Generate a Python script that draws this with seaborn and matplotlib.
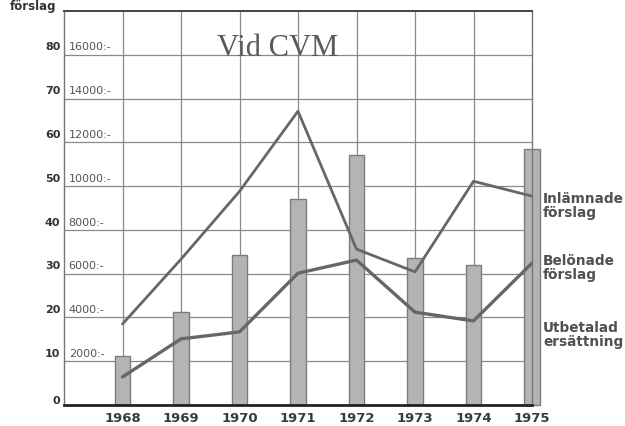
import matplotlib
matplotlib.use("Agg")
import matplotlib.pyplot as plt
import seaborn as sns

# data
years = [1968, 1969, 1970, 1971, 1972, 1973, 1974, 1975]
inlamnade = [18.5, 33.3, 48.8, 67.1, 35.6, 30.4, 51.1, 47.7]   # submitted proposals
belonade = [6.4, 15.1, 16.7, 30.1, 33.1, 21.2, 19.2, 32.4]     # rewarded proposals
ersattning_kr = [2240, 4240, 6840, 9400, 11420, 6720, 6400, 11680]  # paid compensation (kr)

left_ticks = [0, 10, 20, 30, 40, 50, 60, 70, 80]
kr_per_unit = 200  # 10 förslag <-> 2000:-

series_labels = [("Inlämnade\nförslag", 45.7),
                 ("Belönade\nförslag", 31.5),
                 ("Utbetalad\nersättning", 16.2)]

sns.set_style("white")
plt.rcParams['font.family'] = ['DejaVu Sans']

fig = plt.figure(figsize=(6.25, 4.27), dpi=100)
ax = fig.add_axes([0.1024, 0.0492, 0.7488, 0.9228])

line_col = '#676767'
grid_col = '#8a8a8a'

# bars for compensation, scaled onto the förslag axis
bar_vals = [v / kr_per_unit for v in ersattning_kr]
sns.barplot(x=years, y=bar_vals, native_scale=True, width=0.27, color='#b4b4b4',
            saturation=1, edgecolor='#7c7c7c', linewidth=1.0, errorbar=None,
            ax=ax, zorder=2)
for p in ax.patches:
    p.set_clip_on(False)

sns.lineplot(x=years, y=inlamnade, ax=ax, color=line_col, linewidth=2.0, zorder=3)
sns.lineplot(x=years, y=belonade, ax=ax, color=line_col, linewidth=2.4, zorder=3)

ax.set_xlim(1967, 1975)
ax.set_ylim(0, 90)

# grid
for yr in years[:-1]:
    ax.axvline(yr, color=grid_col, lw=0.9, zorder=1)
for t in left_ticks[1:]:
    ax.axhline(t, color=grid_col, lw=0.9, zorder=1)

for s in ['left', 'right']:
    ax.spines[s].set_color('#777777')
    ax.spines[s].set_linewidth(1.0)
ax.spines['top'].set_color('#444444')
ax.spines['top'].set_linewidth(1.4)
ax.spines['bottom'].set_color('#222222')
ax.spines['bottom'].set_linewidth(2.0)

ax.set_xticks(years)
ax.set_xticklabels([str(y) for y in years], fontsize=9.5, fontweight='bold', color='#3a3a3a')
ax.tick_params(axis='x', length=0, pad=4)
ax.set_yticks([])
ax.set_xlabel('')
ax.set_ylabel('')

ytr = ax.get_yaxis_transform()
for t in left_ticks:
    off = 1.2 if t == 0 else 1.9
    ax.text(-0.008, t + off, str(t), transform=ytr, ha='right', va='center',
            fontsize=8, fontweight='bold', color='#333333')
    if t > 0:
        ax.text(0.01, t + off, f"{t * kr_per_unit}:-", transform=ytr, ha='left',
                va='center', fontsize=8, color='#555555')

ax.text(1970.66, 81.7, "Vid CVM", ha='center', va='center', fontsize=22,
        family='Liberation Serif', color='#5a5a5a')

for txt, yv in series_labels:
    ax.text(1975.19, yv, txt, ha='left', va='center', fontsize=9.8,
            fontweight='bold', color='#505050', linespacing=1.0)

fig.text(0.016, 0.999, "förslag", ha='left', va='top', fontsize=8.5,
         fontweight='bold', color='#333333')

fig.savefig("out.png", dpi=100)
